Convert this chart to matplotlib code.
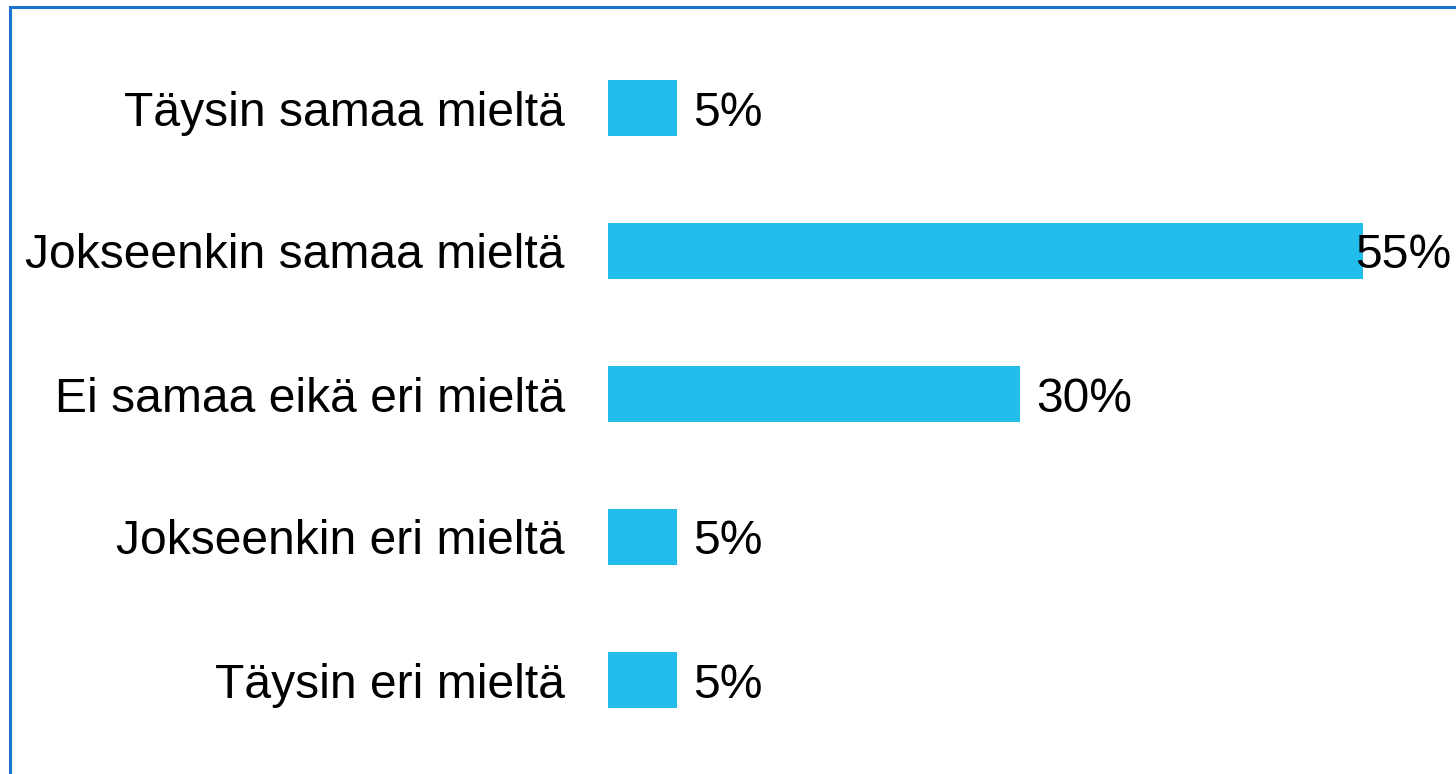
import matplotlib
matplotlib.use("Agg")
import matplotlib.pyplot as plt
from matplotlib.patches import Rectangle

categories = ["Täysin samaa mieltä", "Jokseenkin samaa mieltä", "Ei samaa eikä eri mieltä",
              "Jokseenkin eri mieltä", "Täysin eri mieltä"]
values = [5, 55, 30, 5, 5]
value_labels = ["5%", "55%", "30%", "5%", "5%"]

W, H, DPI = 1456, 774, 100
FS = 34.6
fig = plt.figure(figsize=(W / DPI, H / DPI), dpi=DPI)
plt.rcParams['font.family'] = ['Liberation Sans', 'DejaVu Sans']

ax_left = 608 / W
ax_top_px = 108 - 71.5
ax_bot_px = 680 + 71.5
ax = fig.add_axes([ax_left, 1 - ax_bot_px / H, 1.0 - ax_left, (ax_bot_px - ax_top_px) / H])

px_per_unit = 13.73
ax.set_xlim(0, (W - 608) / px_per_unit)
ypos = list(range(len(categories)))
ax.barh(ypos, values, height=56 / 143, color="#22BDEB", edgecolor="none")
ax.set_ylim(len(categories) - 0.5, -0.5)
ax.set_yticks(ypos)
ax.set_yticklabels(categories, fontsize=FS)
ax.tick_params(axis='y', length=0, pad=31)
ax.set_xticks([])
for s in ax.spines.values():
    s.set_visible(False)
ax.patch.set_alpha(0)

fig.canvas.draw()
renderer = fig.canvas.get_renderer()
for y, v, lab in zip(ypos, values, value_labels):
    t = ax.annotate(lab, xy=(v, y), xytext=(16 * 72 / DPI, 0), textcoords='offset points',
                    ha='left', va='center_baseline', fontsize=FS, color='black',
                    annotation_clip=False)
    bb = t.get_window_extent(renderer)
    if bb.x1 > W - 4:
        t.remove()
        ax.annotate(lab, xy=(1.0, y), xycoords=('axes fraction', 'data'),
                    xytext=(-5 * 72 / DPI, 0), textcoords='offset points',
                    ha='right', va='center_baseline', fontsize=FS, color='black',
                    annotation_clip=False)

# frame border (extends past right and bottom edges)
fig.patches.append(Rectangle((9.5 / W, -0.1), 1.2, 1 - 7.5 / H + 0.1, transform=fig.transFigure,
                             fill=False, edgecolor="#1874CD", linewidth=3 * 72 / DPI, clip_on=False))

fig.savefig("out.png", dpi=DPI)
